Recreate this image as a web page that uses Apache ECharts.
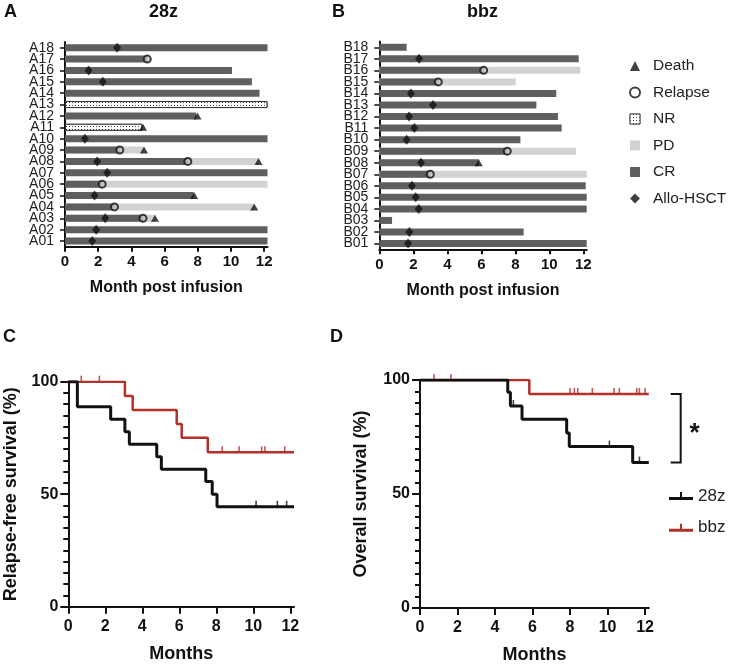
<!DOCTYPE html>
<html><head><meta charset="utf-8">
<script src="https://cdn.jsdelivr.net/npm/echarts@6/dist/echarts.min.js"></script>
<style>html,body{margin:0;padding:0;background:#fff}#c{width:732px;height:665px}</style>
</head><body><div id="c"></div>
<script>
// ---------- Swimmer data (index 0 = bottom row) ----------
const rowsA = ['A01','A02','A03','A04','A05','A06','A07','A08','A09','A10','A11','A12','A13','A14','A15','A16','A17','A18'];
const crEndA   = [12.2,12.2,4.7,2.98,7.74,2.24,12.2,7.4,3.3,12.2,null,7.9,null,11.72,11.26,10.06,4.96,12.2];
const pdEndA   = [null,null,5.4,11.36,null,12.2,null,11.64,4.7,null,null,null,null,null,null,null,null,null];
const nrEndA   = [null,null,null,null,null,null,null,null,null,null,4.66,null,12.2,null,null,null,null,null];
const deathA   = [null,null,5.42,11.4,7.78,null,null,11.66,4.76,null,4.7,7.98,null,null,null,null,null,null];
const relapseA = [null,null,4.7,2.98,null,2.24,null,7.4,3.3,null,null,null,null,null,null,null,4.96,null];
const alloA    = [1.64,1.88,2.42,null,1.78,null,2.54,1.94,null,1.2,null,null,null,null,2.28,1.42,null,3.14];

const rowsB = ['B01','B02','B03','B04','B05','B06','B07','B08','B09','B10','B11','B12','B13','B14','B15','B16','B17','B18'];
const crEndB   = [12.2,8.49,0.75,12.2,12.2,12.14,3.0,5.85,7.53,8.3,10.73,10.51,9.24,10.41,3.47,6.14,11.73,1.61];
const pdEndB   = [null,null,null,null,null,null,12.2,null,11.57,null,null,null,null,null,8.02,11.83,null,null];
const nrEndB   = [null,null,null,null,null,null,null,null,null,null,null,null,null,null,null,null,null,null];
const deathB   = [null,null,null,null,null,null,null,5.85,null,null,null,null,null,null,null,null,null,null];
const relapseB = [null,null,null,null,null,null,3.0,null,7.53,null,null,null,null,null,3.47,6.14,null,null];
const alloB    = [1.69,1.77,null,2.32,2.14,1.92,null,2.45,null,1.61,2.06,1.75,3.16,1.86,null,null,2.34,null];

const xTicks = [0,2,4,6,8,10,12];

// ---------- Kaplan-Meier data [month, %] ----------
const kmC_28z  = [[0,100],[0.49,88.9],[2.29,83.3],[3.06,77.8],[3.3,72.2],[4.78,66.7],[5.03,61.1],[7.43,55.6],[7.78,50],[8.04,44.4],[12.2,44.4]];
const censC_28z = [[10.15,44.4],[11.3,44.4],[11.8,44.4]];
const kmC_bbz  = [[0,100],[3.06,93.7],[3.48,87.4],[5.86,81.2],[6.13,75.1],[7.54,68.6],[12.2,68.6]];
const censC_bbz = [[0.7,100],[1.68,100],[8.32,68.6],[9.23,68.6],[10.45,68.6],[10.63,68.6],[11.7,68.6]];
const kmD_28z  = [[0,100],[4.68,94.6],[4.82,88.6],[5.44,82.8],[7.82,76.7],[7.96,70.8],[11.34,63.8],[12.2,63.8]];
const censD_28z = [[4.98,88.6],[10.1,70.8],[11.7,63.8]];
const kmD_bbz  = [[0,100],[5.83,93.9],[12.2,93.9]];
const censD_bbz = [[0.75,100],[1.65,100],[8.0,93.9],[8.23,93.9],[8.41,93.9],[9.19,93.9],[10.35,93.9],[10.63,93.9],[11.56,93.9],[11.7,93.9],[12.0,93.9]];

// ---------- styling ----------
const FONT = 'Liberation Sans, Arial, Helvetica, sans-serif';
const CR_COLOR = '#5f5f5f', PD_COLOR = '#d3d1d3', RED = '#b3302b', BLACK = '#111';
const nrDecal = {symbol:'rect', symbolSize:1, color:'#444', backgroundColor:'#fff', dashArrayX:[1,2], dashArrayY:[1,2], rotation:0};

function pts(vals, rows){ return vals.map((v,i)=> v==null?null:[v, rows[i]]).filter(Boolean); }

function swimXAxis(gi){
  return {type:'value', gridIndex:gi, min:0, max:12.2, interval:2,
    name:'Month post infusion', nameLocation:'middle', nameGap:33,
    nameTextStyle:{fontFamily:FONT, fontWeight:'bold', fontSize:16, color:BLACK},
    axisLine:{show:true, lineStyle:{color:BLACK, width:2}},
    axisTick:{show:true, length:5, lineStyle:{color:BLACK, width:2}, customValues:xTicks},
    axisLabel:{fontFamily:FONT, fontWeight:'bold', fontSize:15, color:BLACK, margin:8, customValues:xTicks},
    splitLine:{show:false}};
}
function swimYAxis(gi, rows){
  return {type:'category', gridIndex:gi, data:rows,
    axisLine:{show:true, lineStyle:{color:BLACK, width:2}},
    axisTick:{show:true, alignWithLabel:true, interval:0, length:5, lineStyle:{color:BLACK, width:1.5}},
    axisLabel:{fontFamily:FONT, fontSize:14, color:'#222', margin:11, interval:0, lineHeight:11},
    splitLine:{show:false}};
}
function kmXAxis(gi){
  return {type:'value', gridIndex:gi, min:0, max:12.2, interval:2,
    name:'Months', nameLocation:'middle', nameGap:38,
    nameTextStyle:{fontFamily:FONT, fontWeight:'bold', fontSize:18, color:BLACK},
    axisLine:{show:true, lineStyle:{color:BLACK, width:2}},
    axisTick:{show:true, length:7, lineStyle:{color:BLACK, width:2}, customValues:xTicks},
    axisLabel:{fontFamily:FONT, fontWeight:'bold', fontSize:16, color:BLACK, margin:12, customValues:xTicks},
    splitLine:{show:false}};
}
function kmYAxis(gi, name, gap){
  return {type:'value', gridIndex:gi, min:0, max:100, interval:50,
    name:name, nameLocation:'middle', nameGap:gap,
    nameTextStyle:{fontFamily:FONT, fontWeight:'bold', fontSize:18, color:BLACK},
    axisLine:{show:true, lineStyle:{color:BLACK, width:2}},
    axisTick:{show:true, length:8, lineStyle:{color:BLACK, width:2}},
    minorTick:{show:true, splitNumber:10, length:5, lineStyle:{color:BLACK, width:2}},
    axisLabel:{fontFamily:FONT, fontWeight:'bold', fontSize:16, color:BLACK, margin:10},
    splitLine:{show:false}, minorSplitLine:{show:false}};
}

function swimSeries(gi, rows, crEnd, pdEnd, nrEnd, death, relapse, allo){
  const common = {type:'bar', xAxisIndex:gi, yAxisIndex:gi, barWidth:7, barGap:'-100%', silent:true};
  return [
    Object.assign({}, common, {name:'PD', data:pdEnd, itemStyle:{color:PD_COLOR}}),
    Object.assign({}, common, {name:'CR', data:crEnd, itemStyle:{color:CR_COLOR}}),
    Object.assign({}, common, {name:'NR', data:nrEnd, itemStyle:{color:'#fff', borderColor:'#333', borderWidth:1, decal:nrDecal}}),
    {type:'scatter', name:'Allo-HSCT', xAxisIndex:gi, yAxisIndex:gi, symbol:'diamond', symbolSize:[8,10], itemStyle:{color:BLACK}, data:pts(allo, rows), z:5, silent:true},
    {type:'scatter', name:'Relapse', xAxisIndex:gi, yAxisIndex:gi, symbol:'circle', symbolSize:7, itemStyle:{color:'#c8c8c8', borderColor:BLACK, borderWidth:2}, data:pts(relapse, rows), z:5, silent:true},
    {type:'scatter', name:'Death', xAxisIndex:gi, yAxisIndex:gi, symbol:'triangle', symbolSize:[8,7], itemStyle:{color:BLACK}, data:pts(death, rows), z:5, silent:true}
  ];
}
function kmSeries(gi, name, data, cens, color, width, z){
  return [
    {type:'line', name:name, xAxisIndex:gi, yAxisIndex:gi, step:'end', data:data, symbol:'none', lineStyle:{color:color, width:width}, itemStyle:{color:color}, z:z, silent:true},
    {type:'scatter', name:name+'-censor'+gi, xAxisIndex:gi, yAxisIndex:gi, data:cens, symbol:'rect', symbolSize:[1.6,6], symbolOffset:[0,-3], itemStyle:{color:color}, z:z, silent:true}
  ];
}

const sq = 'path://M0,0h10v10h-10z';
const lineIcon = 'path://M0,6h24v3h-24z M11,1h2v6h-2z';

const titleStyle = {fontFamily:FONT, fontWeight:'bold', fontSize:18, color:BLACK};
const option = {
  animation:false,
  backgroundColor:'#fff',
  title:[
    {text:'A', left:4, top:3, padding:0, textStyle:titleStyle},
    {text:'28z', left:149, top:3, padding:0, textStyle:titleStyle},
    {text:'B', left:332, top:3, padding:0, textStyle:titleStyle},
    {text:'bbz', left:467, top:3, padding:0, textStyle:titleStyle},
    {text:'C', left:3, top:328, padding:0, textStyle:titleStyle},
    {text:'D', left:330, top:328, padding:0, textStyle:titleStyle}
  ],
  legend:[
    {orient:'vertical', left:624, top:53, itemWidth:10, itemHeight:10, itemGap:10.5, selectedMode:false,
     textStyle:{fontFamily:FONT, fontSize:15.5, color:'#222', lineHeight:16, padding:[0,0,0,8]},
     data:[
       {name:'Death', icon:'triangle', itemStyle:{color:BLACK}},
       {name:'Relapse', icon:'circle', itemStyle:{color:'#fff', borderColor:BLACK, borderWidth:2}},
       {name:'NR', icon:sq, itemStyle:{color:'#fff', borderColor:'#555', borderWidth:1, decal:nrDecal}},
       {name:'PD', icon:sq, itemStyle:{color:PD_COLOR}},
       {name:'CR', icon:sq, itemStyle:{color:CR_COLOR}},
       {name:'Allo-HSCT', icon:'diamond', itemStyle:{color:BLACK}}
     ]},
    {orient:'vertical', left:664, top:481, itemWidth:24, itemHeight:10, itemGap:11.7, selectedMode:false,
     textStyle:{fontFamily:FONT, fontSize:17, color:'#222', lineHeight:20},
     data:[
       {name:'28z', icon:lineIcon, itemStyle:{color:BLACK}},
       {name:'bbz', icon:lineIcon, itemStyle:{color:RED}}
     ]}
  ],
  grid:[
    {left:65, top:42, width:202.5, height:204.7},
    {left:379.3, top:41.5, width:207.4, height:207.8},
    {left:68.3, top:381.7, width:225.7, height:225},
    {left:420, top:380, width:228.8, height:228.3}
  ],
  xAxis:[swimXAxis(0), swimXAxis(1), kmXAxis(2), kmXAxis(3)],
  yAxis:[swimYAxis(0, rowsA), swimYAxis(1, rowsB), kmYAxis(2,'Relapse-free survival (%)',48), kmYAxis(3,'Overall survival (%)',50)],
  series:[].concat(
    swimSeries(0, rowsA, crEndA, pdEndA, nrEndA, deathA, relapseA, alloA),
    swimSeries(1, rowsB, crEndB, pdEndB, nrEndB, deathB, relapseB, alloB),
    kmSeries(2, 'bbz', kmC_bbz, censC_bbz, RED, 2.5, 3),
    kmSeries(2, '28z', kmC_28z, censC_28z, BLACK, 3, 4),
    kmSeries(3, 'bbz', kmD_bbz, censD_bbz, RED, 2.5, 3),
    kmSeries(3, '28z', kmD_28z, censD_28z, BLACK, 3, 4),
    [{
      type:'custom', xAxisIndex:3, yAxisIndex:3, clip:false, silent:true, z:5,
      data:[[13.9, kmD_bbz[kmD_bbz.length-1][1], kmD_28z[kmD_28z.length-1][1]]],
      renderItem:function(params, api){
        const top = api.coord([api.value(0), api.value(1)]);
        const bot = api.coord([api.value(0), api.value(2)]);
        const armX = top[0] - 10;
        return {type:'group', children:[
          {type:'polyline', shape:{points:[[armX,top[1]],[top[0],top[1]],[bot[0],bot[1]],[armX,bot[1]]]}, style:{stroke:BLACK, lineWidth:2, fill:null}},
          {type:'text', style:{text:'*', x:top[0]+14, y:(top[1]+bot[1])/2+6, font:'bold 26px '+FONT, align:'center', verticalAlign:'middle', fill:BLACK}}
        ]};
      }
    }]
  )
};
const chart = echarts.init(document.getElementById('c'), null, {renderer:'canvas'});
chart.setOption(option);
</script>
</body></html>
